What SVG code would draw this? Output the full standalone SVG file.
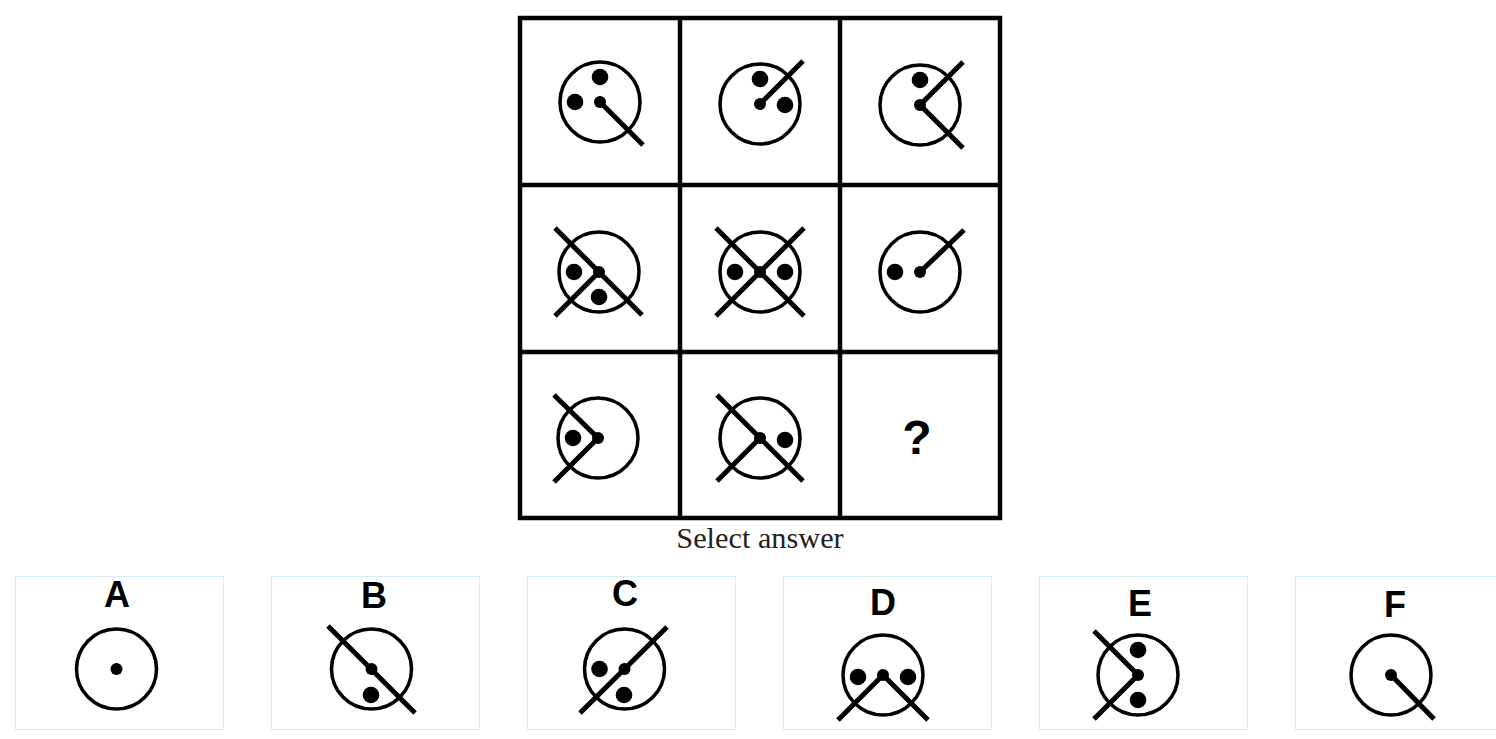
<svg xmlns="http://www.w3.org/2000/svg" width="1496" height="739" viewBox="0 0 1496 739">
<style>
.ring{fill:none;stroke:#000;stroke-width:3.5}
.arm{stroke:#000;stroke-width:5;stroke-linecap:butt;fill:none}
.dot{fill:#000}
.grid{fill:none;stroke:#000;stroke-width:4.5}
.box{fill:#fff;stroke:#d8ecfb;stroke-width:1}
.lbl{font-family:"Liberation Sans",Arial,sans-serif;font-weight:bold;font-size:36px;text-anchor:middle;fill:#000}
.q{font-family:"Liberation Sans",Arial,sans-serif;font-weight:bold;font-size:48px;text-anchor:middle;fill:#000}
.cap{font-family:"Liberation Serif","Times New Roman",serif;font-size:30.3px;text-anchor:middle;fill:#222}
</style>
<rect width="1496" height="739" fill="#fff"/>
<g id="grid">
<rect class="grid" x="520" y="18" width="480" height="500"/>
<line class="grid" x1="680" y1="18" x2="680" y2="518"/>
<line class="grid" x1="840" y1="18" x2="840" y2="518"/>
<line class="grid" x1="520" y1="185" x2="1000" y2="185"/>
<line class="grid" x1="520" y1="352" x2="1000" y2="352"/>
</g>
<g id="cell1">
<circle class="ring" cx="600" cy="102" r="40"/>
<line class="arm" x1="600" y1="102" x2="643" y2="145"/>
<circle class="dot" cx="600" cy="102" r="6"/>
<circle class="dot" cx="575" cy="102" r="8.3"/>
<circle class="dot" cx="600" cy="77" r="8.3"/>
</g>
<g id="cell2">
<circle class="ring" cx="760" cy="104" r="40"/>
<line class="arm" x1="760" y1="104" x2="803" y2="61"/>
<circle class="dot" cx="760" cy="104" r="6"/>
<circle class="dot" cx="760" cy="79" r="8.3"/>
<circle class="dot" cx="785" cy="105" r="8.3"/>
</g>
<g id="cell3">
<circle class="ring" cx="920" cy="105" r="40"/>
<polyline class="arm" points="963,62 920,105 963,148"/>
<circle class="dot" cx="920" cy="105" r="6"/>
<circle class="dot" cx="920" cy="80" r="8.3"/>
</g>
<g id="cell4">
<circle class="ring" cx="599" cy="272" r="40"/>
<line class="arm" x1="555" y1="228" x2="642" y2="315"/>
<line class="arm" x1="599" y1="272" x2="555" y2="316"/>
<circle class="dot" cx="599" cy="272" r="6"/>
<circle class="dot" cx="574" cy="272" r="8.3"/>
<circle class="dot" cx="599" cy="297" r="8.3"/>
</g>
<g id="cell5">
<circle class="ring" cx="760" cy="272" r="40"/>
<line class="arm" x1="716" y1="228" x2="804" y2="316"/>
<line class="arm" x1="716" y1="316" x2="804" y2="228"/>
<circle class="dot" cx="760" cy="272" r="6"/>
<circle class="dot" cx="735" cy="272" r="8.3"/>
<circle class="dot" cx="785" cy="272" r="8.3"/>
</g>
<g id="cell6">
<circle class="ring" cx="920" cy="272" r="40"/>
<line class="arm" x1="920" y1="272" x2="964" y2="230"/>
<circle class="dot" cx="920" cy="272" r="6"/>
<circle class="dot" cx="895" cy="272" r="8.3"/>
</g>
<g id="cell7">
<circle class="ring" cx="598" cy="438" r="40"/>
<polyline class="arm" points="554,395 598,438 554,482"/>
<circle class="dot" cx="598" cy="438" r="6"/>
<circle class="dot" cx="573" cy="438" r="8.3"/>
</g>
<g id="cell8">
<circle class="ring" cx="760" cy="438" r="40"/>
<line class="arm" x1="717" y1="395" x2="803" y2="481"/>
<line class="arm" x1="760" y1="438" x2="717" y2="481"/>
<circle class="dot" cx="760" cy="438" r="6"/>
<circle class="dot" cx="785" cy="440" r="8.3"/>
</g>
<g id="cell9">
<text class="q" x="917" y="454">?</text>
</g>
<text class="cap" x="760" y="548">Select answer</text>
<g id="optA">
<rect class="box" x="15.5" y="576.5" width="208" height="153"/>
<text class="lbl" x="117" y="607">A</text>
<circle class="ring" cx="116.5" cy="669" r="40"/>
<circle class="dot" cx="116.5" cy="669" r="6"/>
</g>
<g id="optB">
<rect class="box" x="271.5" y="576.5" width="208" height="153"/>
<text class="lbl" x="374" y="608">B</text>
<circle class="ring" cx="371.5" cy="669" r="40"/>
<line class="arm" x1="328" y1="626" x2="415" y2="713"/>
<circle class="dot" cx="371.5" cy="669" r="6"/>
<circle class="dot" cx="371" cy="695" r="8.3"/>
</g>
<g id="optC">
<rect class="box" x="527.5" y="576.5" width="208" height="153"/>
<text class="lbl" x="625" y="606">C</text>
<circle class="ring" cx="624.5" cy="669" r="40"/>
<line class="arm" x1="580" y1="713" x2="667" y2="627"/>
<circle class="dot" cx="624.5" cy="669" r="6"/>
<circle class="dot" cx="599.5" cy="669" r="8.3"/>
<circle class="dot" cx="624" cy="695" r="8.3"/>
</g>
<g id="optD">
<rect class="box" x="783.5" y="576.5" width="208" height="153"/>
<text class="lbl" x="883" y="615">D</text>
<circle class="ring" cx="883" cy="675" r="40"/>
<polyline class="arm" points="838,720 883,675 928,720"/>
<circle class="dot" cx="883" cy="675" r="6"/>
<circle class="dot" cx="858" cy="677" r="8.3"/>
<circle class="dot" cx="908" cy="677" r="8.3"/>
</g>
<g id="optE">
<rect class="box" x="1039.5" y="576.5" width="208" height="153"/>
<text class="lbl" x="1140" y="616">E</text>
<circle class="ring" cx="1138" cy="675" r="40"/>
<polyline class="arm" points="1094,631 1138,675 1094,719"/>
<circle class="dot" cx="1138" cy="675" r="6"/>
<circle class="dot" cx="1138" cy="650" r="8.3"/>
<circle class="dot" cx="1138" cy="700" r="8.3"/>
</g>
<g id="optF">
<rect class="box" x="1295.5" y="576.5" width="208" height="153"/>
<text class="lbl" x="1395" y="617">F</text>
<circle class="ring" cx="1391" cy="675" r="40"/>
<line class="arm" x1="1391" y1="675" x2="1434" y2="719"/>
<circle class="dot" cx="1391" cy="675" r="6"/>
</g>
</svg>
